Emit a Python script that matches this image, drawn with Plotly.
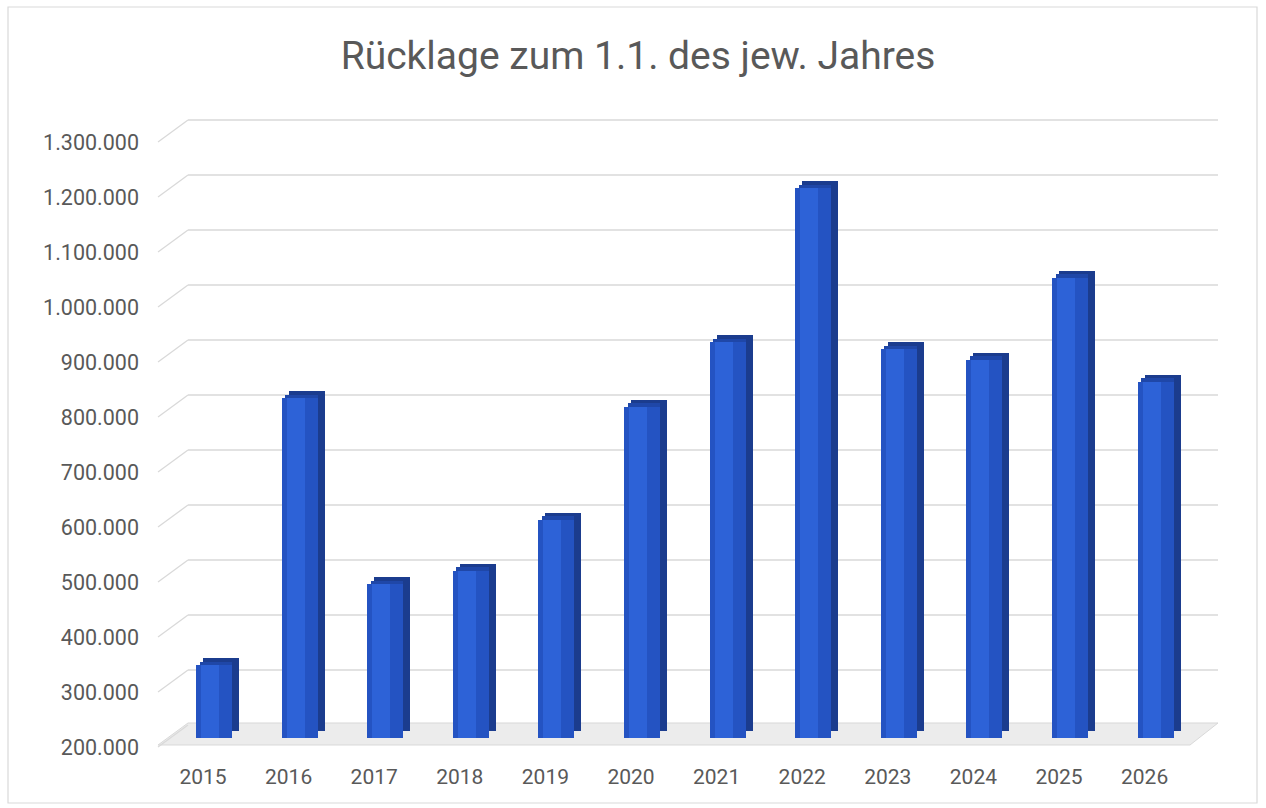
import plotly.graph_objects as go

# ---- data ----
years = [2015, 2016, 2017, 2018, 2019, 2020, 2021, 2022, 2023, 2024, 2025, 2026]
ruecklage = [332000, 818000, 480000, 504000, 597000, 802000, 920000, 1200000, 907000, 888000, 1037000, 848000]
tick_vals = [200000, 300000, 400000, 500000, 600000, 700000, 800000, 900000,
             1000000, 1100000, 1200000, 1300000]
tick_text = ["200.000", "300.000", "400.000", "500.000", "600.000", "700.000", "800.000",
             "900.000", "1.000.000", "1.100.000", "1.200.000", "1.300.000"]
title_text = "Rücklage zum 1.1. des jew. Jahres"
BASE = 200000

# ---- geometry (pixels, styling only) ----
W, H = 1266, 808
TOP_PX, BOT_PX = 100, 762
LEFT_PX, RIGHT_PX = 158, 1218
K = 55 / 100000.0           # px per value unit
BAR_BASE_PX = 738           # front bottom of bars
LABEL_BASE_PX = 747         # tick label of BASE
BACK_BASE_PX = 725          # back-wall gridline of BASE
STEP_PX = 85.6
FIRST_CENTER_PX = 214


def yrange(p_base):
    return [BASE - (BOT_PX - p_base) / K, BASE + (p_base - TOP_PX) / K]


def px_to_val(p):
    return BASE + (BAR_BASE_PX - p) / K


xr = [years[0] - (FIRST_CENTER_PX - LEFT_PX) / STEP_PX,
      years[0] + (RIGHT_PX - FIRST_CENTER_PX) / STEP_PX]
bw = 36 / STEP_PX
side_dx = 7 / STEP_PX
top_dy = 7 / K

heights = [v - BASE for v in ruecklage]

fig = go.Figure()
# side / top (dark box behind)
fig.add_trace(go.Bar(x=years, y=heights, base=[BASE + top_dy] * len(years),
                     width=bw, offset=-bw / 2 + side_dx,
                     marker=dict(color="#1b3c8e", line=dict(width=0)),
                     hoverinfo="skip", showlegend=False))
fig.add_trace(go.Bar(x=years, y=[h + top_dy * 0.5 for h in heights], base=[BASE] * len(years),
                     width=bw * 0.9, offset=-bw / 2 + side_dx * 0.5,
                     marker=dict(color="#1f47a8", line=dict(width=0)),
                     hoverinfo="skip", showlegend=False))
# front face
fig.add_trace(go.Bar(x=years, y=heights, base=[BASE] * len(years),
                     width=bw, offset=-bw / 2,
                     marker=dict(color="#2453c2", line=dict(width=0)),
                     customdata=ruecklage,
                     hovertemplate="%{x}: %{customdata:,.0f}<extra></extra>",
                     showlegend=False))
# highlight band
fig.add_trace(go.Bar(x=years, y=heights, base=[BASE] * len(years),
                     width=bw * 0.5, offset=-bw * 0.36,
                     marker=dict(color="#2d62d7", line=dict(width=0)),
                     hoverinfo="skip", showlegend=False))

shapes = []
# floor
fb = px_to_val(723)
ff = px_to_val(745)


def yfrac(v):
    r = yrange(BAR_BASE_PX)
    d0, d1 = 1 - BOT_PX / H, 1 - TOP_PX / H
    return d0 + (v - r[0]) / (r[1] - r[0]) * (d1 - d0)


floor_path = "M {:.5f},{:.5f} L {:.5f},{:.5f} L {:.5f},{:.5f} L {:.5f},{:.5f} Z".format(
    188 / W, yfrac(fb), 1218 / W, yfrac(fb), 1190 / W, yfrac(ff), 158 / W, yfrac(ff))
shapes.append(dict(type="path", path=floor_path, xref="paper", yref="paper",
                   fillcolor="#ececec", line=dict(color="#d9d9d9", width=1), layer="below"))

# gridlines on back wall + diagonal on side wall
back_off = (BAR_BASE_PX - BACK_BASE_PX) / K
front_off = (LABEL_BASE_PX - BAR_BASE_PX) / K
for v in tick_vals:
    yb = v + back_off
    yf = v - front_off
    if v != BASE:
        shapes.append(dict(type="line", xref="paper", yref="y", x0=188 / W, x1=1218 / W,
                           y0=yb, y1=yb, line=dict(color="#d9d9d9", width=1.3), layer="below"))
    shapes.append(dict(type="line", xref="paper", yref="y", x0=158 / W, x1=188 / W,
                       y0=yf, y1=yb, line=dict(color="#d9d9d9", width=1.3), layer="below"))

# outer border
shapes.append(dict(type="rect", xref="paper", yref="paper", x0=8 / W, x1=1257 / W,
                   y0=1 - 803 / H, y1=1 - 7 / H, line=dict(color="#d9d9d9", width=1.2),
                   fillcolor="rgba(0,0,0,0)", layer="below"))

font_fam = "Roboto, Liberation Sans, sans-serif"
fig.update_layout(
    width=W, height=H,
    margin=dict(l=0, r=0, t=0, b=0),
    paper_bgcolor="white", plot_bgcolor="rgba(0,0,0,0)",
    barmode="overlay", bargap=0,
    title=dict(text=title_text, x=638 / W, xanchor="center", y=1 - 55 / H, yanchor="middle",
               font=dict(family=font_fam, size=39, color="#595959")),
    xaxis=dict(domain=[LEFT_PX / W, RIGHT_PX / W], range=xr, tickmode="array",
               tickvals=years, ticktext=[str(y) for y in years], showgrid=False,
               zeroline=False, showline=False, ticks="", ticklabelshift=-11,
               tickfont=dict(family=font_fam, size=21, color="#595959")),
    yaxis=dict(domain=[1 - BOT_PX / H, 1 - TOP_PX / H], range=yrange(BAR_BASE_PX),
               showgrid=False, zeroline=False, showticklabels=False, showline=False),
    yaxis2=dict(overlaying="y", range=yrange(LABEL_BASE_PX), anchor="free",
                position=139 / W, side="left", tickmode="array", tickvals=tick_vals,
                ticktext=tick_text, showgrid=False, zeroline=False, showline=False, ticks="",
                tickfont=dict(family=font_fam, size=21.5, color="#595959")),
    shapes=shapes,
)
# invisible trace to activate yaxis2
fig.add_trace(go.Scatter(x=[years[0]], y=[BASE], yaxis="y2", mode="markers",
                         marker=dict(opacity=0), hoverinfo="skip", showlegend=False))

fig.write_html("out.html", config={"displayModeBar": False},
               post_script="document.body.style.margin='0';")
